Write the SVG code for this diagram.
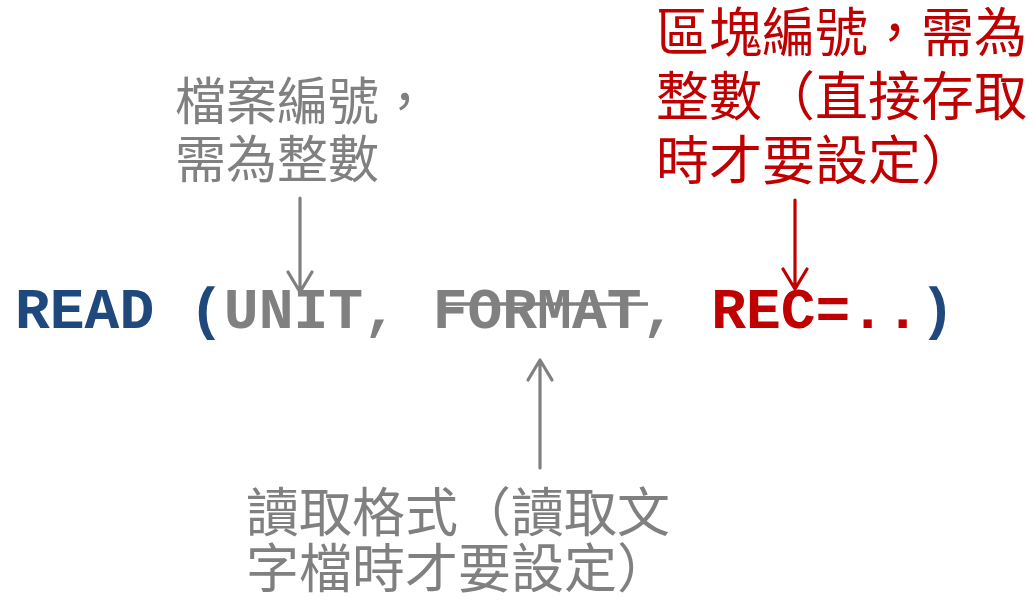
<svg xmlns="http://www.w3.org/2000/svg" width="1033" height="604" viewBox="0 0 1033 604">
<style>
.code{font-family:"Liberation Mono","Courier New",monospace;font-weight:bold;font-size:58px;white-space:pre}
.cjk{font-family:"Noto Sans CJK TC","Noto Sans CJK SC",sans-serif;font-size:51px}
.blue{fill:#1F497D}
.gray{fill:#808080}
.red{fill:#C00000}
.arr{fill:none;stroke-width:3.2;stroke-linecap:round;stroke-linejoin:round}
</style>
<rect width="1033" height="604" fill="#ffffff"/>
<g id="code">
<text class="code" x="15" y="328" xml:space="preserve"><tspan class="blue">READ (</tspan><tspan class="gray">UNIT, FORMAT, </tspan><tspan class="red">REC=..</tspan><tspan class="blue">)</tspan></text>
<line x1="440" y1="304" x2="648" y2="304" stroke="#808080" stroke-width="3.5"/>
</g>
<g id="label-unit">
<text class="cjk gray" x="175" y="120">檔案編號，</text>
<text class="cjk gray" x="175" y="178">需為整數</text>
</g>
<g id="label-rec">
<text class="cjk red" x="656" y="52" style="font-size:53px">區塊編號，需為</text>
<text class="cjk red" x="656" y="116" style="font-size:53px">整數（直接存取</text>
<text class="cjk red" x="656" y="180" style="font-size:53px">時才要設定）</text>
</g>
<g id="label-format">
<text class="cjk gray" x="246" y="532" style="font-size:53px">讀取格式（讀取文</text>
<text class="cjk gray" x="246" y="588" style="font-size:53px">字檔時才要設定）</text>
</g>
<g id="connectors">
<path class="arr" stroke="#808080" d="M300,198 V292 M288,272 L300,292 L312,272"/>
<path class="arr" stroke="#C00000" d="M795,200 V289 M783,269 L795,289 L807,269"/>
<path class="arr" stroke="#808080" d="M540,468 V360 M528,380 L540,360 L552,380"/>
</g>
</svg>
